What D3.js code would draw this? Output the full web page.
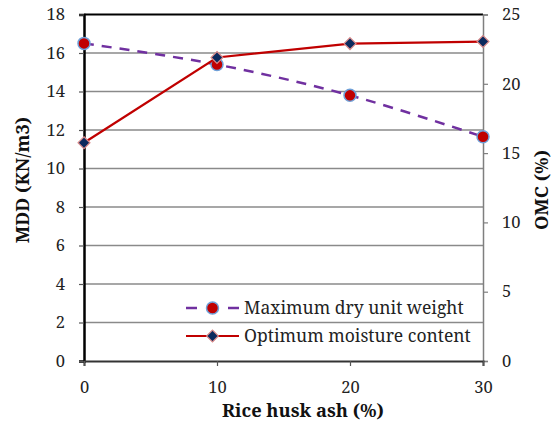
<!DOCTYPE html>
<html><head><meta charset="utf-8">
<script src="https://cdn.jsdelivr.net/npm/d3@7"></script>
<style>
html,body{margin:0;padding:0;background:#fff;}
</style></head>
<body><svg id="c" width="554" height="425"></svg>
<script>
const ash = [0, 10, 20, 30];
const mdd = [16.5, 15.4, 13.8, 11.65];
const omc = [15.75, 21.9, 22.9, 23.05];
const xTicks = [0, 10, 20, 30];
const yLeftTicks = [0, 2, 4, 6, 8, 10, 12, 14, 16, 18];
const yRightTicks = [0, 5, 10, 15, 20, 25];
const seriesNames = ["Maximum dry unit weight", "Optimum moisture content"];

const FONT = '"Noto Serif", "DejaVu Serif", serif';
const svg = d3.select("#c");
const L = 84, R = 483, T = 14.5, B = 361;
const x = d3.scaleLinear().domain([0, 30]).range([L, R]);
const yL = d3.scaleLinear().domain([0, 18]).range([B, T]);
const yR = d3.scaleLinear().domain([0, 25]).range([B, T]);

// gridlines
svg.append("g").selectAll("line").data(yLeftTicks.filter(d => d > 0 && d < 18)).join("line")
  .attr("x1", L).attr("x2", R).attr("y1", d => yL(d)).attr("y2", d => yL(d))
  .attr("stroke", "#8a8a8a").attr("stroke-width", 1.5);
svg.append("line").attr("x1", L).attr("x2", R).attr("y1", yL(18)).attr("y2", yL(18))
  .attr("stroke", "#000").attr("stroke-width", 2);

function styleTicks(g) {
  g.selectAll("text").style("font-family", FONT).style("font-size", "16.5px").attr("fill", "#222");
}
const gL = svg.append("g").attr("transform", `translate(${L},0)`)
  .call(d3.axisLeft(yL).tickValues(yLeftTicks).tickSize(5).tickPadding(14));
gL.select(".domain").attr("stroke", "#000").attr("stroke-width", 2.5);
gL.selectAll(".tick line").attr("stroke", "#555").attr("stroke-width", 1.2);
styleTicks(gL);

const gR = svg.append("g").attr("transform", `translate(${R},0)`)
  .call(d3.axisRight(yR).tickValues(yRightTicks).tickSize(5).tickPadding(14));
gR.select(".domain").attr("stroke", "#7f7f7f").attr("stroke-width", 1.5);
gR.selectAll(".tick line").attr("stroke", "#7f7f7f").attr("stroke-width", 1.2);
styleTicks(gR);

const gB = svg.append("g").attr("transform", `translate(0,${B})`)
  .call(d3.axisBottom(x).tickValues(xTicks).tickSize(5).tickPadding(15));
gB.select(".domain").attr("stroke", "#333").attr("stroke-width", 2);
gB.selectAll(".tick line").attr("stroke", "#555").attr("stroke-width", 1.2);
styleTicks(gB);

// titles
function title(t) { return t.style("font-family", FONT).style("font-weight", "bold").style("font-size", "15px").attr("fill", "#111").attr("text-anchor", "middle"); }
const xt = title(svg.append("text").attr("x", 303).attr("y", 417)).text("Rice husk ash (%)");
const fs = 15 * 162 / xt.node().getComputedTextLength();
xt.style("font-size", fs + "px");
title(svg.append("text").attr("transform", "translate(29,180) rotate(-90)")).style("font-size", fs + "px").text("MDD (KN/m3)");
title(svg.append("text").attr("transform", "translate(548,190) rotate(-90)")).style("font-size", fs + "px").text("OMC (%)");

// series
const purple = "#7030A0", red = "#C00000", navy = "#0b2a5e";
const mddLine = d3.line().x((d, i) => x(ash[i])).y(d => yL(d)).curve(d3.curveCatmullRom.alpha(0.5));
svg.append("path").datum(mdd).attr("d", mddLine).attr("fill", "none")
  .attr("stroke", purple).attr("stroke-width", 2.5).attr("stroke-dasharray", "10,8");
svg.append("g").selectAll("circle").data(mdd).join("circle")
  .attr("cx", (d, i) => x(ash[i])).attr("cy", d => yL(d)).attr("r", 6)
  .attr("fill", red).attr("stroke", "#6fa0d8").attr("stroke-width", 1.5);

const omcLine = d3.line().x((d, i) => x(ash[i])).y(d => yR(d));
svg.append("path").datum(omc).attr("d", omcLine).attr("fill", "none")
  .attr("stroke", red).attr("stroke-width", 2.2);
const diamond = d3.symbol().type(d3.symbolDiamond2).size(90);
svg.append("g").selectAll("path").data(omc).join("path")
  .attr("transform", (d, i) => `translate(${x(ash[i])},${yR(d)})`).attr("d", diamond)
  .attr("fill", navy).attr("stroke", "#d98a8a").attr("stroke-width", 1.2);

// legend
const lg = svg.append("g");
const ly = [308, 336];
lg.append("line").attr("x1", 186).attr("x2", 197).attr("y1", ly[0]).attr("y2", ly[0]).attr("stroke", purple).attr("stroke-width", 2.5);
lg.append("line").attr("x1", 228).attr("x2", 239).attr("y1", ly[0]).attr("y2", ly[0]).attr("stroke", purple).attr("stroke-width", 2.5);
lg.append("circle").attr("cx", 212.5).attr("cy", ly[0]).attr("r", 6).attr("fill", red).attr("stroke", "#6fa0d8").attr("stroke-width", 1.5);
lg.append("line").attr("x1", 186).attr("x2", 239).attr("y1", ly[1]).attr("y2", ly[1]).attr("stroke", red).attr("stroke-width", 2.2);
lg.append("path").attr("transform", `translate(212.5,${ly[1]})`).attr("d", diamond).attr("fill", navy).attr("stroke", "#d98a8a").attr("stroke-width", 1.2);
lg.selectAll("text.lt").data(seriesNames).join("text").attr("class", "lt")
  .attr("x", 244).attr("y", (d, i) => ly[i] + 5.5)
  .style("font-family", FONT).style("font-size", "17.5px").attr("fill", "#222").text(d => d);
</script></body></html>
